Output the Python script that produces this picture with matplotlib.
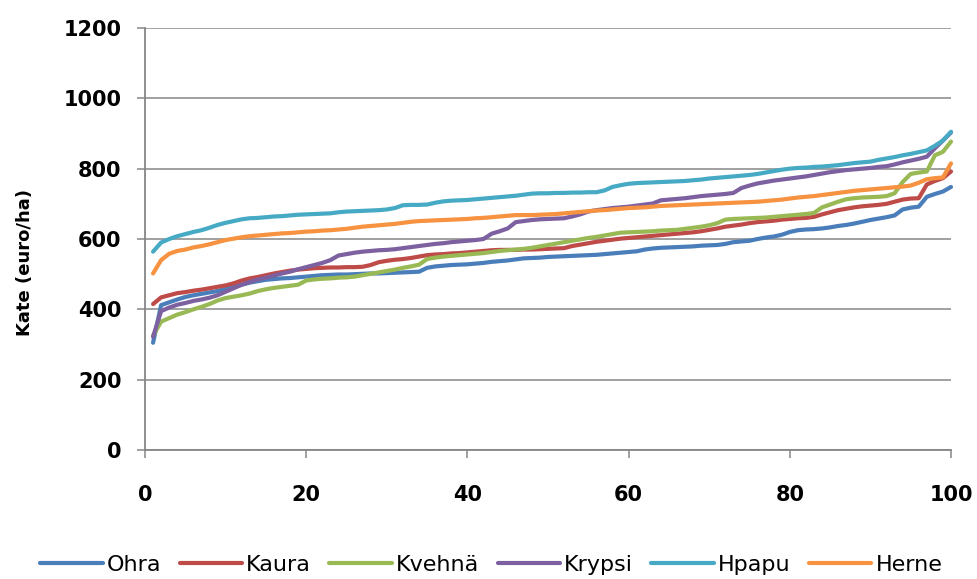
import matplotlib
matplotlib.use('Agg')
import matplotlib.pyplot as plt
import numpy as np

x = np.arange(1, 101)

ohra = [305, 412, 420, 428, 435, 440, 444, 448, 452, 458,
        464, 470, 476, 480, 484, 486, 488, 489, 491, 493,
        495, 497, 498, 499, 499, 500, 501, 502, 502, 503,
        504, 505, 506, 507, 518, 522, 524, 526, 527, 528,
        530, 532, 535, 537, 539, 542, 545, 546, 547, 549,
        550, 551, 552, 553, 554, 555, 557, 559, 561, 563,
        565, 570, 573, 575, 576, 577, 578, 579, 581, 582,
        583, 586, 591, 593, 595, 600, 604, 607, 612, 620,
        625, 627, 628, 630, 633, 637, 640, 644, 649, 654,
        658, 662, 667, 684, 689, 692, 720, 728, 735, 748]
kaura = [415, 434, 440, 446, 449, 453, 456, 460, 464, 468,
         474, 482, 488, 492, 497, 502, 506, 510, 513, 515,
         517, 518, 519, 519, 520, 520, 521, 526, 534, 538,
         541, 543, 546, 550, 554, 556, 557, 559, 560, 562,
         564, 566, 568, 569, 569, 569, 570, 570, 571, 572,
         573, 574, 580, 584, 588, 592, 595, 598, 601, 603,
         605, 607, 609, 611, 613, 615, 617, 619, 622, 626,
         630, 635, 638, 641, 645, 648, 650, 652, 655, 657,
         659, 660, 663, 670, 676, 682, 686, 690, 693, 695,
         697, 700, 706, 712, 715, 716, 755, 765, 773, 792]
kvehna = [325, 365, 375, 385, 392, 400, 407, 415, 425, 432,
          436, 440, 445, 452, 457, 461, 464, 467, 470, 482,
          485, 487, 488, 490, 491, 493, 497, 501, 505, 509,
          513, 518, 522, 527, 543, 547, 550, 552, 554, 556,
          558, 560, 563, 566, 568, 570, 572, 575, 579, 583,
          587, 591, 595, 599, 603, 606, 610, 614, 618, 619,
          620, 621, 622, 624, 625, 626, 629, 632, 635, 639,
          645, 655, 657, 658, 659, 660, 661, 663, 665, 667,
          669, 671, 674, 690, 698, 706, 713, 716, 718, 719,
          720, 722, 730, 762, 785, 789, 792, 838, 848, 877]
krypsi = [322, 395, 405, 413, 418, 424, 428, 433, 440, 450,
          460, 470, 478, 485, 490, 496, 502, 507, 514, 520,
          526, 532, 540, 553, 557, 561, 564, 566, 568, 569,
          571, 574, 577, 580, 583, 586, 588, 591, 593, 595,
          597, 600, 615, 622, 630, 648, 651, 654, 656, 657,
          658, 659, 664, 670, 678, 682, 685, 688, 690, 692,
          695, 698, 701, 710, 712, 714, 716, 719, 722, 724,
          726, 728, 731, 745, 752, 758, 762, 766, 769, 772,
          775, 778, 782, 786, 790, 793, 796, 798, 800, 802,
          805, 807, 812, 818, 823, 828, 834, 858, 880, 903]
hpapu = [564, 590, 600, 608, 614, 620, 625, 632, 640, 646,
         651, 656, 659, 660, 662, 664, 665, 667, 669, 670,
         671, 672, 673, 676, 678, 679, 680, 681, 682, 684,
         688, 696, 697, 697, 698, 703, 707, 709, 710, 711,
         713, 715, 717, 719, 721, 723, 726, 729, 730, 730,
         731, 731, 732, 732, 733, 733, 738, 748, 753, 757,
         759, 760, 761, 762, 763, 764, 765, 767, 769, 772,
         774, 776, 778, 780, 782, 785, 789, 793, 797, 800,
         802, 803, 805, 806, 808, 810, 813, 816, 818, 820,
         825, 829, 833, 838, 842, 847, 852, 865, 880, 905]
herne = [502, 540, 558, 566, 570, 576, 580, 585, 591, 597,
         601, 605, 608, 610, 612, 614, 616, 617, 619, 621,
         622, 624, 625, 627, 629, 632, 635, 637, 639, 641,
         643, 646, 649, 651, 652, 653, 654, 655, 656, 657,
         659, 660, 662, 664, 666, 668, 668, 668, 669, 670,
         671, 673, 675, 677, 679, 681, 682, 684, 686, 688,
         689, 690, 692, 694, 695, 696, 697, 698, 699, 700,
         701, 702, 703, 704, 705, 706, 708, 710, 712, 715,
         718, 720, 722, 725, 728, 731, 734, 737, 739, 741,
         743, 745, 747, 749, 752, 760, 770, 773, 775, 815]

names = ['Ohra', 'Kaura', 'Kvehnä', 'Krypsi', 'Hpapu', 'Herne']
series = [ohra, kaura, kvehna, krypsi, hpapu, herne]
colors = ['#4A7EBB', '#BE4B48', '#98B954', '#7D60A0', '#46AAC5', '#F69240']

grey = '#868686'

fig = plt.figure(figsize=(9.77, 5.79), dpi=100)
ax = fig.add_axes([145/977, 1 - 450/579, 806/977, 422/579])

for name, vals, c in zip(names, series, colors):
    ax.plot(x, vals, color=c, lw=3.0, label=name, clip_on=False,
            solid_joinstyle='round', solid_capstyle='round')

ax.set_xlim(0, 100)
ax.set_ylim(0, 1200)
ax.set_xticks(np.arange(0, 101, 20))
ax.set_yticks(np.arange(0, 1201, 200))
ax.grid(axis='y', color=grey, lw=1.1)
ax.set_axisbelow(True)
for s in ['top', 'right']:
    ax.spines[s].set_visible(False)
for s in ['left', 'bottom']:
    ax.spines[s].set_color(grey)
    ax.spines[s].set_linewidth(1.3)

ax.tick_params(axis='y', direction='out', length=6, width=1.1, color=grey,
               pad=11, labelsize=15)
ax.tick_params(axis='x', direction='out', length=6, width=1.1, color=grey,
               pad=19, labelsize=15)
for lab in ax.get_yticklabels():
    lab.set_fontweight('bold')
for lab in ax.get_xticklabels():
    lab.set_fontweight('bold')

ax.set_ylabel('Kate (euro/ha)', fontsize=13, fontweight='bold')
ax.yaxis.set_label_coords(-0.138, 0.445)

fig.legend(loc='lower center', bbox_to_anchor=(0.503, -0.012), ncol=6,
           frameon=False, fontsize=16, handlelength=2.8, handletextpad=0.2,
           columnspacing=0.82, borderpad=0)

fig.savefig('out.png', dpi=100)
